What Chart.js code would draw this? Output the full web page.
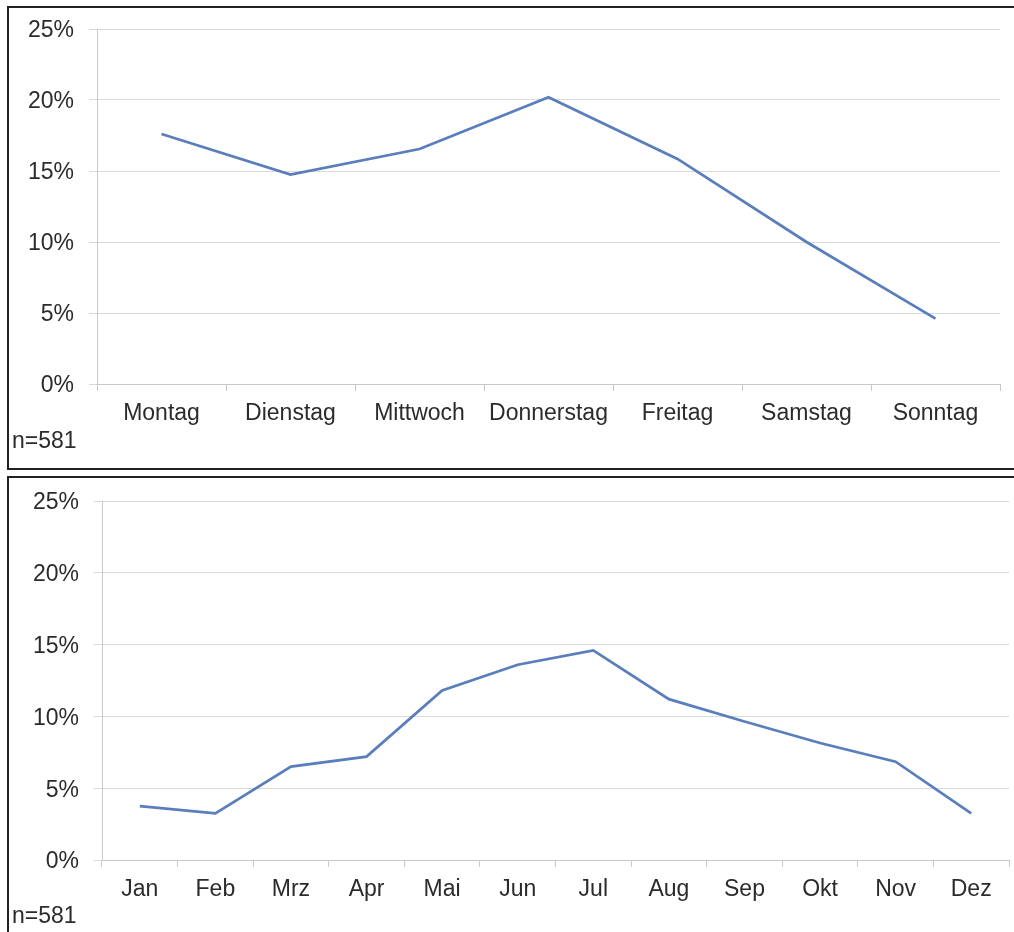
<!DOCTYPE html>
<html>
<head>
<meta charset="utf-8">
<script src="https://cdn.jsdelivr.net/npm/chart.js@4/dist/chart.umd.min.js"></script>
<style>
    body { margin: 0; background: #fff; width: 1014px; height: 932px; overflow: hidden; position: relative; font-family: "Liberation Sans", Arial, sans-serif; }
    .panel { position: absolute; border: 2px solid #222; box-sizing: border-box; }
    canvas { position: absolute; }
    .note { position: absolute; font-size: 23px; color: #2b2b2b; line-height: 1; }
</style>
</head>
<body>
<div class="panel" style="left:7px; top:6px; width:1020px; height:464px;"></div>
<div class="panel" style="left:7px; top:476px; width:1020px; height:470px;"></div>
<canvas id="weekChart" width="1004" height="458" style="left:10px; top:9px;"></canvas>
<canvas id="monthChart" width="1004" height="452" style="left:10px; top:479px;"></canvas>
<div class="note" style="left:12px; top:429px;">n=581</div>
<div class="note" style="left:12px; top:904px;">n=581</div>
<script>
// Share of answers per weekday (%)
const weekdays = ['Montag', 'Dienstag', 'Mittwoch', 'Donnerstag', 'Freitag', 'Samstag', 'Sonntag'];
const weekdayShares = [17.6, 14.75, 16.55, 20.2, 15.85, 10.0, 4.6];

// Share of answers per month (%)
const months = ['Jan', 'Feb', 'Mrz', 'Apr', 'Mai', 'Jun', 'Jul', 'Aug', 'Sep', 'Okt', 'Nov', 'Dez'];
const monthShares = [3.75, 3.25, 6.5, 7.2, 11.8, 13.6, 14.6, 11.2, 9.65, 8.15, 6.85, 3.25];

// Y axis range
const yMin = 0;
const yMax = 25;
const yStep = 5;

const textFont = { family: '"Liberation Sans", Arial, sans-serif', size: 23 };

// Build one line chart; axis sizes are fixed so the plot area lands where it should.
function drawLineChart(canvasId, labels, values, yAxisWidth, xAxisHeight, padTop, padRight) {
    const ctx = document.getElementById(canvasId).getContext('2d');
    new Chart(ctx, {
        type: 'line',
        data: {
            labels: labels,
            datasets: [{
                data: values,
                borderColor: '#5a7ebb',
                borderWidth: 2.7,
                pointRadius: 0,
                tension: 0,
                fill: false
            }]
        },
        options: {
            responsive: false,
            animation: false,
            layout: { padding: { top: padTop, right: padRight, left: 0, bottom: 0 } },
            scales: {
                x: {
                    offset: true,
                    grid: { offset: true, drawOnChartArea: false, drawTicks: true, tickLength: 7, color: '#c8c8c8' },
                    border: { display: true, color: '#c8c8c8' },
                    ticks: { color: '#2b2b2b', font: textFont, padding: 9, maxRotation: 0, autoSkip: false },
                    afterFit: scale => {
                        scale.height = xAxisHeight;
                        scale.paddingLeft = 0;
                        scale.paddingRight = 0;
                    }
                },
                y: {
                    min: yMin,
                    max: yMax,
                    grid: { color: '#d9d9d9', tickLength: 8 },
                    border: { display: true, color: '#c8c8c8' },
                    ticks: {
                        stepSize: yStep,
                        color: '#2b2b2b',
                        font: textFont,
                        padding: 15,
                        labelOffset: 2,
                        callback: v => v + '%'
                    },
                    afterFit: scale => {
                        scale.width = yAxisWidth;
                        scale.paddingTop = 0;
                        scale.paddingBottom = 0;
                    }
                }
            },
            plugins: {
                legend: { display: false },
                tooltip: { enabled: false }
            }
        }
    });
}

drawLineChart('weekChart', weekdays, weekdayShares, 87, 83, 20, 14);
drawLineChart('monthChart', months, monthShares, 92, 71, 22, 5);
</script>
</body>
</html>
